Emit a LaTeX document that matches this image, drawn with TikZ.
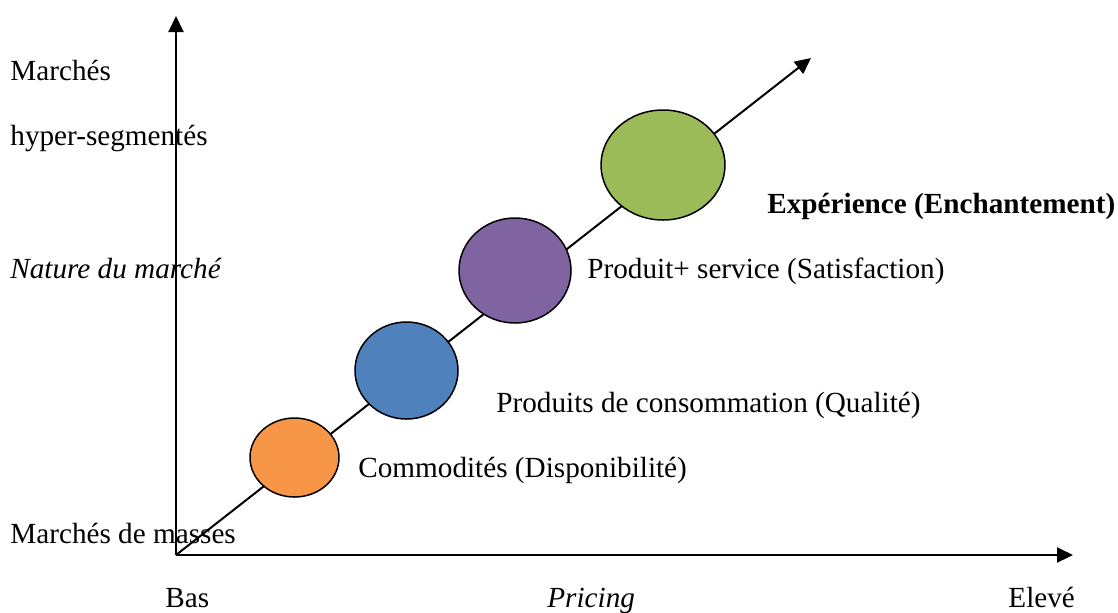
\documentclass[tikz,border=0pt]{standalone}
\usepackage{fontspec}
\setmainfont{Liberation Serif}
\usetikzlibrary{arrows.meta,shapes.geometric}

\definecolor{orangeoff}{HTML}{F79646}
\definecolor{blueoff}{HTML}{4F81BD}
\definecolor{purpleoff}{HTML}{8064A2}
\definecolor{greenoff}{HTML}{9BBB59}

\tikzset{
  axe/.style={line width=1pt, -{Triangle[length=8pt,width=7.5pt]}},
  bulle/.style={ellipse, draw, line width=0.75pt, inner sep=0pt},
  lbl/.style={anchor=base west, inner sep=0pt, font=\fontsize{14.6}{17}\selectfont}
}

\begin{document}
\begin{tikzpicture}[x=0.5pt, y=-0.5pt]
\useasboundingbox (0, 0) rectangle (1118, 612);

\coordinate (O) at (176, 555);
\coordinate (haut) at (176, 16);
\coordinate (droite) at (1073, 555);
\coordinate (diag) at (811, 58);

\draw [axe] (O) -- (haut);
\draw [axe] (O) -- (droite);
\draw [axe] (O) -- (diag);

\node [bulle, fill=orangeoff, minimum width=44.5pt, minimum height=39.5pt] (commo) at (294.5, 457.5) {};
\node [bulle, fill=blueoff, minimum width=51.5pt, minimum height=48.5pt] (conso) at (406.5, 370.5) {};
\node [bulle, fill=purpleoff, minimum width=56pt, minimum height=52.5pt] (servi) at (515, 270.5) {};
\node [bulle, fill=greenoff, minimum width=62pt, minimum height=55pt] (exper) at (663, 165) {};

\node [lbl] (m1) at (10, 80) {Marchés};
\node [lbl] (m2) at (10, 145) {hyper-segmentés};
\node [lbl] (nat) at (10, 278) {\itshape Nature du marché};
\node [lbl] (mass) at (10, 543) {Marchés de masses};

\node [lbl] (bas) at (165, 607) {Bas};
\node [lbl] (pri) at (547, 607) {\itshape Pricing};
\node [lbl] (elev) at (1008, 607) {Elevé};

\node [lbl] (tcommo) at (358, 477) {Commodités (Disponibilité)};
\node [lbl] (tconso) at (496, 412) {Produits de consommation (Qualité)};
\node [lbl] (tservi) at (587, 278) {Produit+ service (Satisfaction)};
\node [lbl] (texper) at (767, 213) {\bfseries Expérience (Enchantement)};

\end{tikzpicture}
\end{document}
